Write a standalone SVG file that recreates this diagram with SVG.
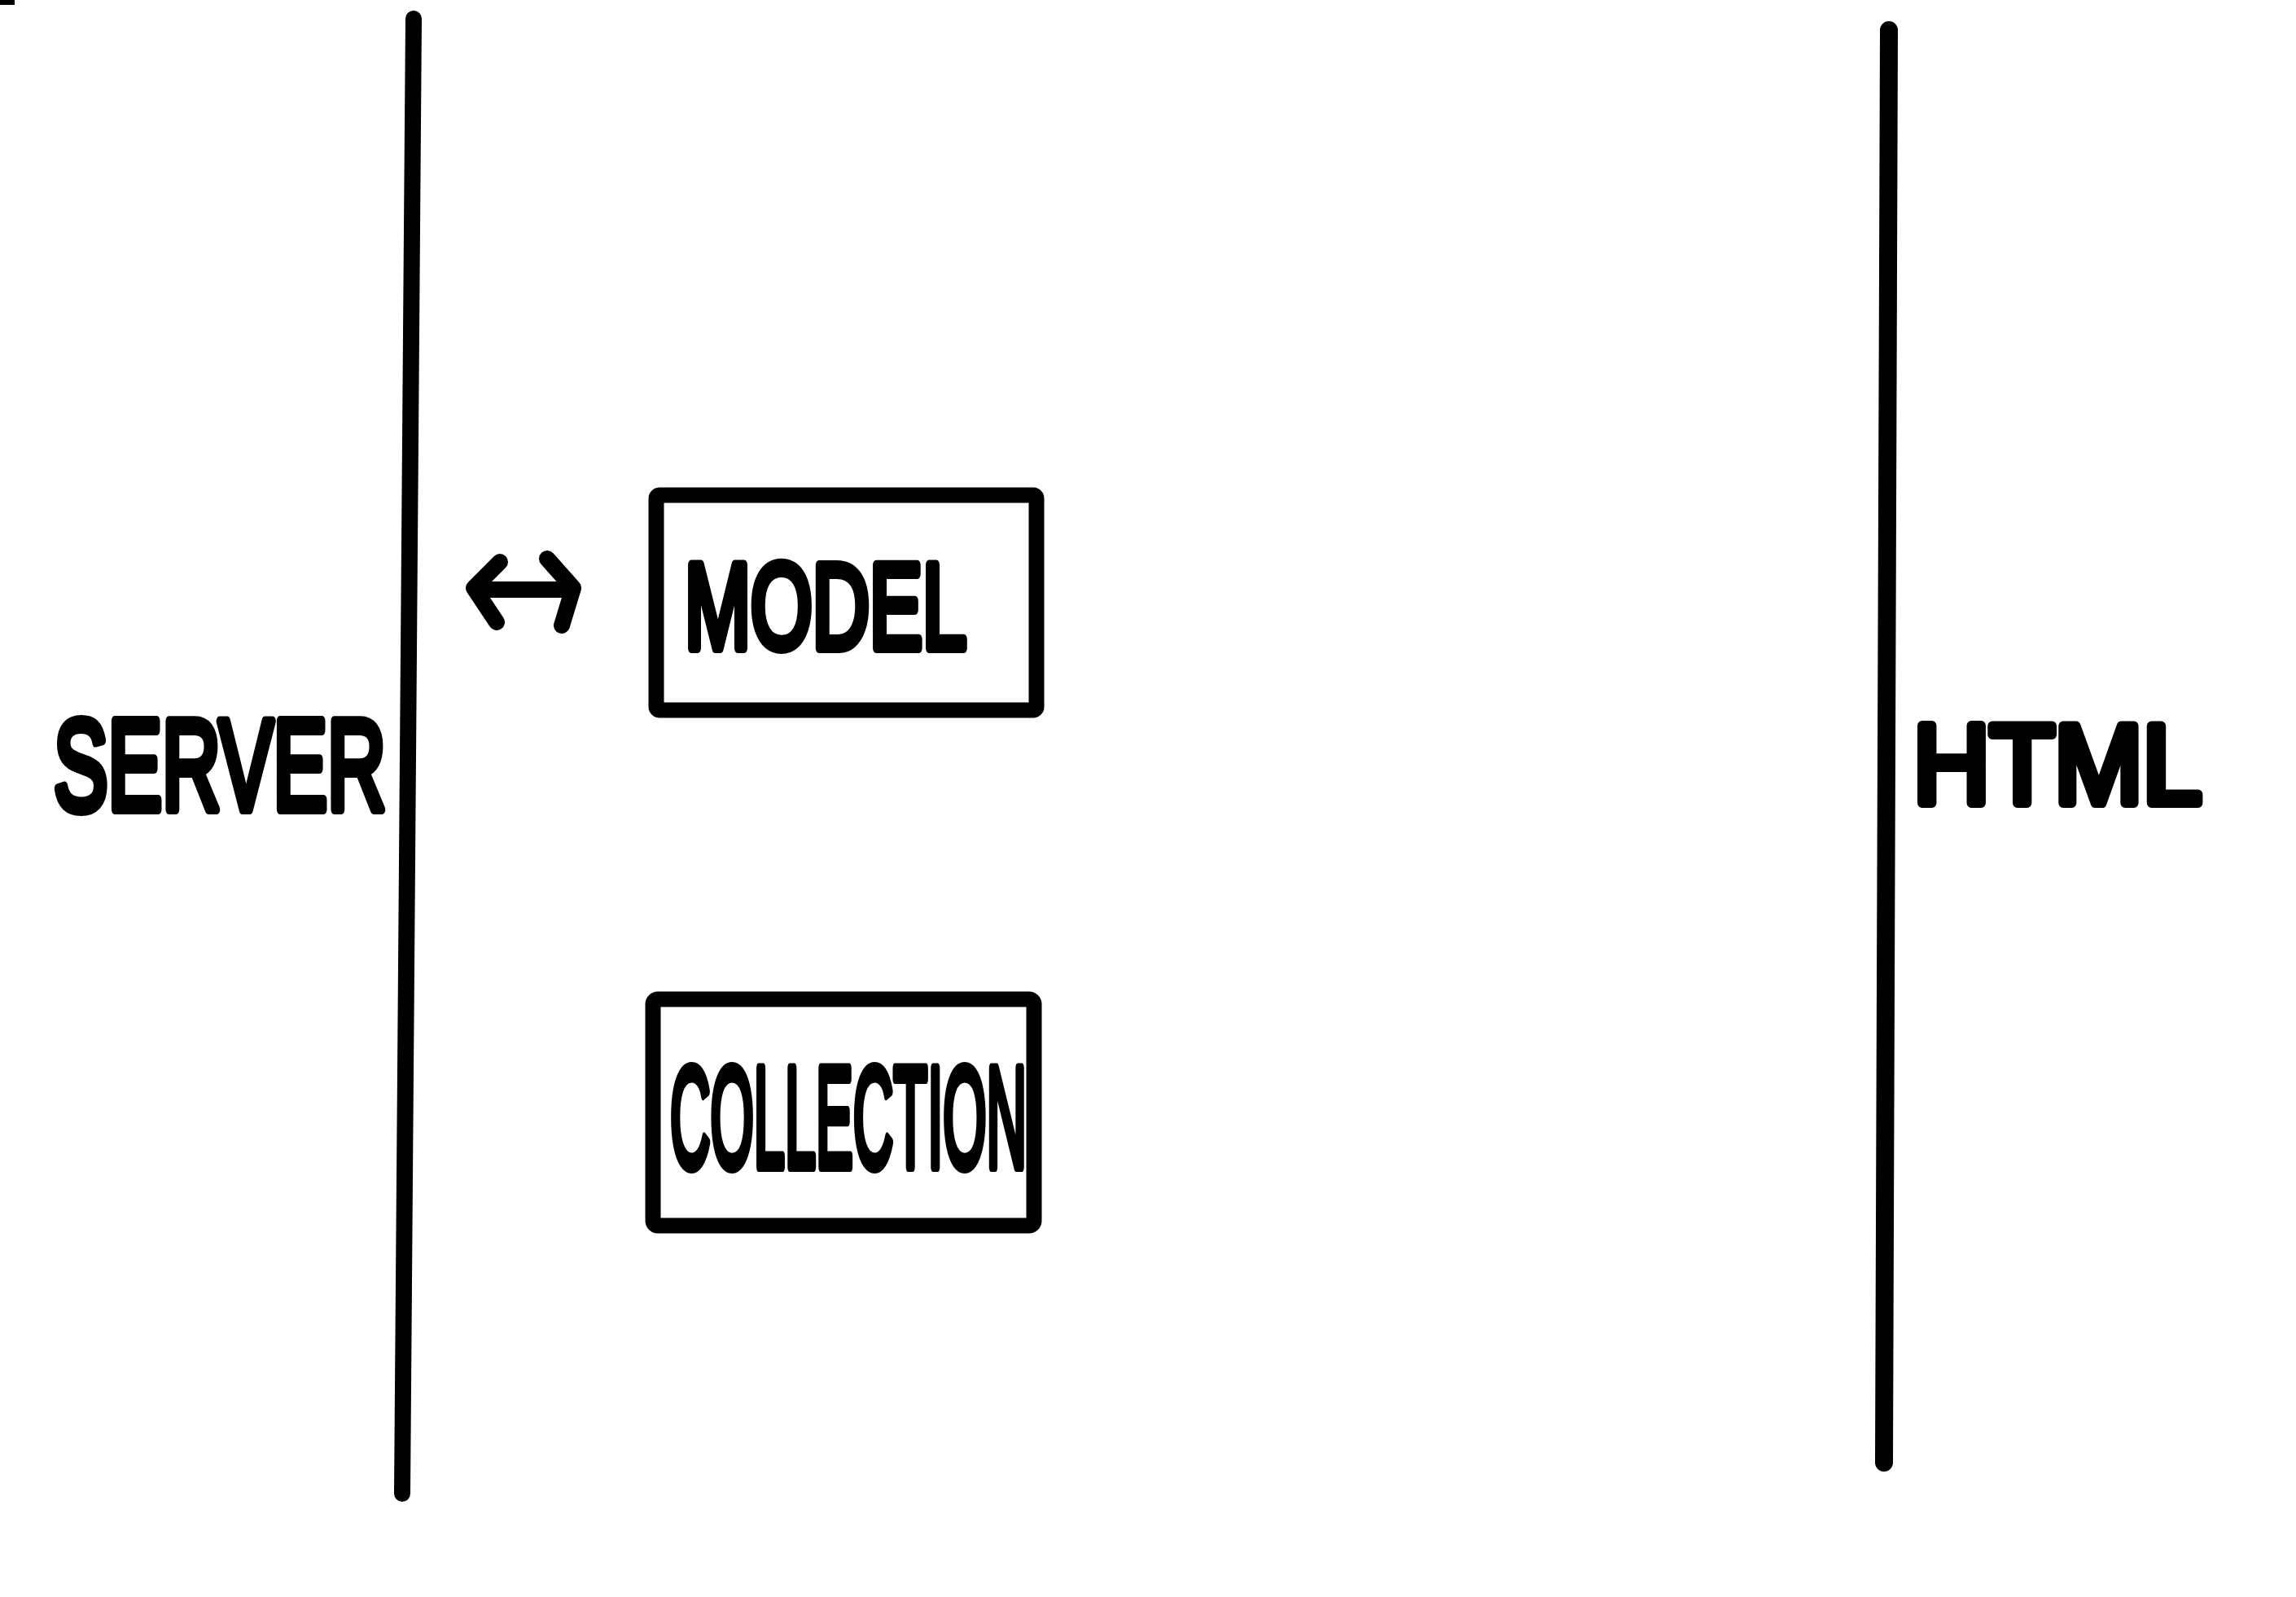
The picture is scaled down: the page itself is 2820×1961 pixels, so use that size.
<svg xmlns="http://www.w3.org/2000/svg" width="2820" height="1961" viewBox="0 0 2820 1961">
<style>
.ink{fill:none;stroke:#000;stroke-linecap:round;stroke-linejoin:round}
.lbl{font-family:"Liberation Sans",Arial,sans-serif;font-weight:normal;fill:#000;stroke:#000;stroke-width:12;stroke-linejoin:round;stroke-linecap:round}
</style>
<rect width="2820" height="1961" fill="#fff"/>
<rect x="0" y="0" width="18" height="6" fill="#000"/>
<g id="boundaries">
<line class="ink" x1="508" y1="23" x2="494" y2="1834" stroke-width="20"/>
<line class="ink" x1="2320" y1="37" x2="2314" y2="1796" stroke-width="22"/>
</g>
<g id="server"><text class="lbl" x="66" y="994" font-size="158" textLength="408" lengthAdjust="spacingAndGlyphs">SERVER</text></g>
<g id="html"><text class="lbl" x="2350" y="986" font-size="138" textLength="354" lengthAdjust="spacingAndGlyphs">HTML</text></g>
<g id="model">
<rect class="ink" x="806" y="608" width="467" height="264" rx="4" stroke-width="19"/>
<text class="lbl" x="841" y="796" font-size="148" textLength="346" lengthAdjust="spacingAndGlyphs">MODEL</text>
</g>
<g id="collection">
<rect class="ink" x="802" y="1227" width="468" height="278" rx="6" stroke-width="19"/>
<text class="lbl" x="823" y="1433" font-size="176" textLength="438" lengthAdjust="spacingAndGlyphs">COLLECTION</text>
</g>
<g id="connectors">
<path class="ink" stroke-width="20" d="M588 724 H698 M614 690 L582 722 L610 764 M672 686 L704 722 L690 768"/>
</g>
</svg>
